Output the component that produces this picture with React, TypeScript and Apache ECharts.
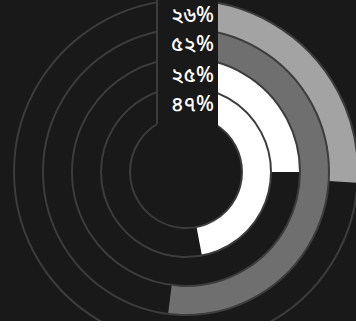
import React, { useEffect, useRef } from "react";
import * as echarts from "echarts";

// Data (outer ring first)
const ringNames = ["A", "B", "C", "D"];
const ringValues = [26, 52, 25, 47];
const ringColors = ["#a3a3a3", "#6f6f6f", "#ffffff", "#ffffff"];

const BN_DIGITS = ["০", "১", "২", "৩", "৪", "৫", "৬", "৭", "৮", "৯"];
const toBengali = (n: number) =>
  String(n)
    .split("")
    .map((c) => (/[0-9]/.test(c) ? BN_DIGITS[+c] : c))
    .join("");

const BG = "#191919";
const CX = 186;
const CY = 172;
const R_IN = 56;
const R_OUT = 172;

export default function App() {
  const ref = useRef<HTMLDivElement>(null);
  useEffect(() => {
    document.body.style.margin = "0";
    const chart = echarts.init(ref.current!, null, { renderer: "svg" });
    const labelY = [17, 46, 77, 106];
    const texts = ringValues.map((v, i) => ({
      type: "text",
      z: 102,
      style: {
        text: toBengali(v) + "%",
        x: 214,
        y: labelY[i],
        textAlign: "right",
        textVerticalAlign: "middle",
        fill: "#ffffff",
        fontSize: 21,
        fontWeight: 500,
        fontFamily: "'Noto Sans Bengali', 'Noto Sans', sans-serif",
      },
    }));
    const innerToOuter = ringNames.slice().reverse();
    const seriesData = ringValues
      .map((v, i) => ({ value: v, itemStyle: { color: ringColors[i] } }))
      .reverse();
    chart.setOption({
      animation: false,
      backgroundColor: BG,
      polar: { center: [CX, CY], radius: [R_IN, R_OUT] },
      angleAxis: {
        type: "value",
        min: 0,
        max: 100,
        startAngle: 90,
        clockwise: true,
        show: false,
      },
      radiusAxis: {
        type: "category",
        data: innerToOuter,
        z: 5,
        axisLine: { show: false },
        axisTick: { show: false },
        axisLabel: { show: false },
        splitLine: { show: true, lineStyle: { color: "#3c3c3c", width: 2 } },
      },
      series: [
        {
          type: "bar",
          coordinateSystem: "polar",
          barCategoryGap: "0%",
          data: seriesData,
          z: 2,
        },
      ],
      graphic: [
        {
          type: "rect",
          z: 100,
          shape: { x: CX - 29, y: 0, width: 61, height: 130 },
          style: { fill: BG },
        },
        {
          type: "line",
          z: 101,
          shape: { x1: CX - 29, y1: 0, x2: CX - 29, y2: 124 },
          style: { stroke: "#3c3c3c", lineWidth: 2 },
        },
        ...texts,
      ],
    });
    return () => chart.dispose();
  }, []);
  return <div ref={ref} style={{ width: 356, height: 321 }} />;
}
